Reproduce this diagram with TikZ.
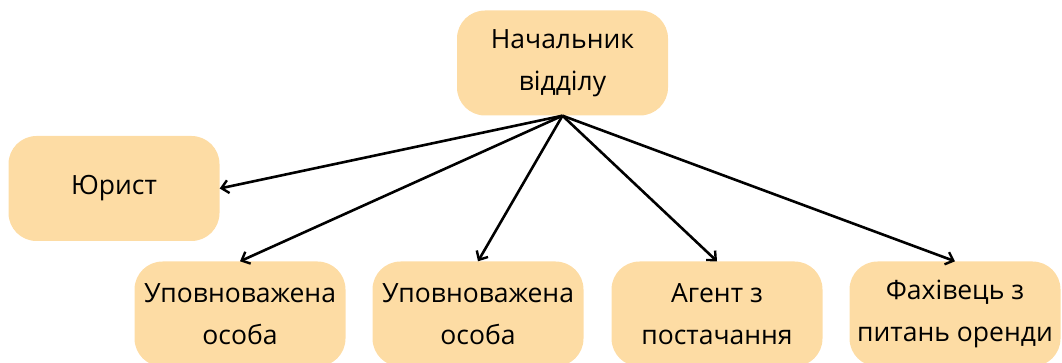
\documentclass[tikz,border=0pt]{standalone}
\usepackage{fontspec}
\setmainfont{Open Sans}
\usetikzlibrary{arrows.meta}
\definecolor{boxfill}{HTML}{FDDCA4}
\tikzset{
  box/.style={draw=none, fill=boxfill, rounded corners=28pt, minimum width=211pt, minimum height=105pt,
    inner sep=0pt, align=center, font=\fontsize{26.5}{42}\selectfont},
  link/.style={-{Straight Barb[length=7pt,width=13pt,line width=2.4pt]}, line width=2.6pt, black}
}
\begin{document}
\begin{tikzpicture}[x=1pt,y=-1pt]
\useasboundingbox (0,0) rectangle (1062,363);
\clip (0,0) rectangle (1062,363);
\node[box] (head) at (562.5,63) {Начальник\\відділу};
\node[box] (lawyer) at (114,188.5) {Юрист};
\node[box] (auth1) at (240,314) {Уповноважена\\особа};
\node[box] (auth2) at (478,314) {Уповноважена\\особа};
\node[box] (agent) at (717,314) {Агент з\\постачання};
\node[box] (rent) at (955,314) {Фахівець з\\питань оренди};
\coordinate (o) at (head.south);
\draw[link] (o) -- (lawyer.east);
\draw[link] (o) -- (auth1.north);
\draw[link] (o) -- (auth2.north);
\draw[link] (o) -- (agent.north);
\draw[link] (o) -- (rent.north);
\end{tikzpicture}
\end{document}
